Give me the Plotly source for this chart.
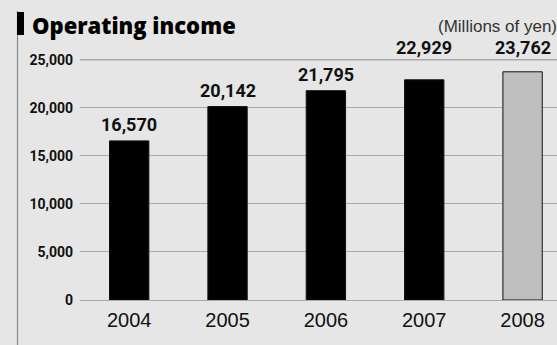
import plotly.graph_objects as go

years = ["2004", "2005", "2006", "2007", "2008"]
operating_income = [16570, 20142, 21795, 22929, 23762]
bar_colors = ["#000000", "#000000", "#000000", "#000000", "#bfbfbf"]
y_ticks = [0, 5000, 10000, 15000, 20000, 25000]
y_tick_labels = ["0", "5,000", "10,000", "15,000", "20,000", "25,000"]
title_text = "Operating income"
unit_text = "(Millions of yen)"

BG = "#e6e6e6"
GRID = "#a8a8a8"
W, H = 557, 345
L, R, T, B = 80, 0, 58, 45
pw, ph = W - L - R, H - T - B

def px_x(p):
    return (p - L) / pw

def px_y(p):
    return (H - B - p) / ph

fig = go.Figure()
fig.add_trace(go.Bar(
    x=years, y=operating_income, width=0.4,
    marker=dict(color=bar_colors, line=dict(color="#111111", width=1)),
    hoverinfo="skip",
))

ymax = y_ticks[-1]
lab_font = dict(family="Roboto", size=18, color="#111", weight=700)
for i, v in enumerate(operating_income):
    label = f"{v:,}"
    if v > ymax * 0.89:
        fig.add_annotation(x=i, y=ymax, text=label, showarrow=False,
                           yanchor="bottom", yshift=0, font=lab_font)
    else:
        fig.add_annotation(x=i, y=v, text=label, showarrow=False,
                           yanchor="bottom", yshift=4, font=lab_font)

fig.add_annotation(xref="paper", yref="paper", x=px_x(30), y=px_y(25),
                   text=title_text, showarrow=False, xanchor="left", yanchor="middle",
                   font=dict(family="Open Sans", size=22, color="#000", weight=800))
fig.add_annotation(xref="paper", yref="paper", x=px_x(436), y=px_y(26),
                   text=unit_text, showarrow=False, xanchor="left", yanchor="middle",
                   font=dict(family="Liberation Sans", size=17, color="#333"))

# top gridline (explicit, so it is never culled at the range edge)
fig.add_shape(type="line", xref="paper", yref="y", x0=0, x1=1, y0=ymax, y1=ymax,
              line=dict(color=GRID, width=1.2), layer="below")
fig.add_shape(type="line", xref="paper", yref="paper",
              x0=px_x(17.5), x1=px_x(17.5), y0=px_y(11), y1=px_y(346),
              line=dict(color="#8a8a8a", width=1.2))
fig.add_shape(type="rect", xref="paper", yref="paper",
              x0=px_x(17), x1=px_x(24), y0=px_y(12), y1=px_y(35),
              fillcolor="#000", line=dict(width=0))

fig.update_layout(
    width=W, height=H, margin=dict(l=L, r=R, t=T, b=B, pad=0),
    paper_bgcolor=BG, plot_bgcolor=BG, showlegend=False,
)
fig.update_xaxes(range=[-0.5, 4.35], showgrid=False, zeroline=False, showline=False,
                 ticks="", tickfont=dict(family="Liberation Sans", size=20, color="#111"),
                 ticklabelstandoff=6)
fig.update_yaxes(range=[0, 25200], tickvals=y_ticks, ticktext=y_tick_labels,
                 showgrid=True, gridcolor=GRID, gridwidth=1.2,
                 zeroline=True, zerolinecolor=GRID, zerolinewidth=1.2,
                 showline=False, ticks="", ticklabelstandoff=6,
                 tickfont=dict(family="Roboto", size=14, color="#111", weight=700))

fig.write_html("out.html")
